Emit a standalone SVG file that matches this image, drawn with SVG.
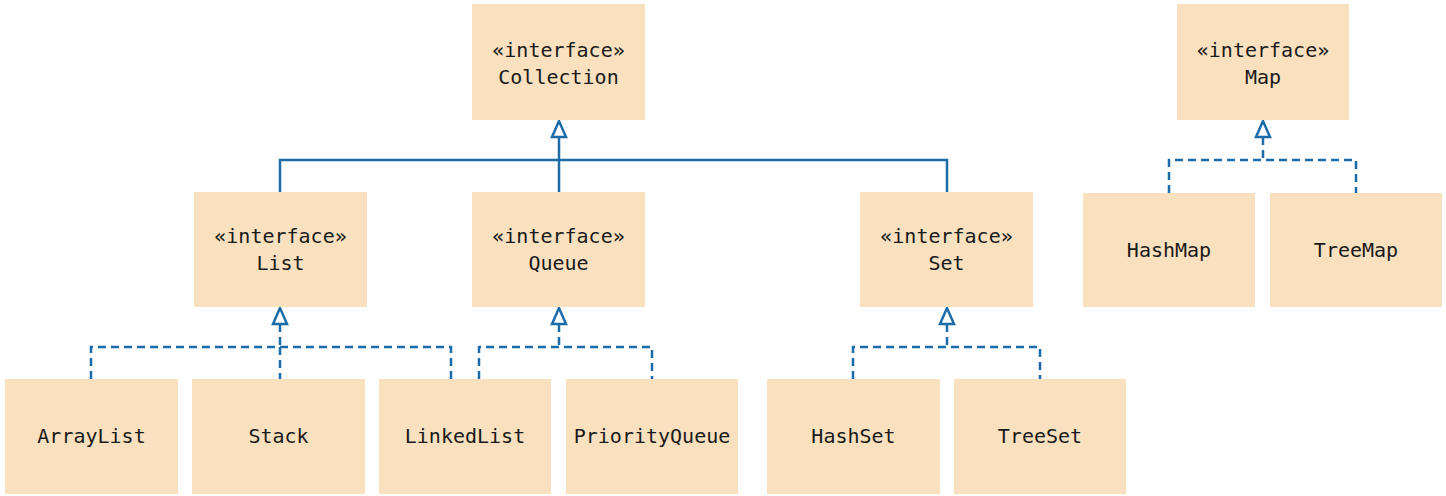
<svg xmlns="http://www.w3.org/2000/svg" width="1446" height="496" viewBox="0 0 1446 496">
<style>
.box{fill:#F9E1C0;}
.t{font-family:"DejaVu Sans Mono","Liberation Mono",monospace;font-size:20px;fill:#1a1a1a;text-anchor:middle;}
.c{fill:none;stroke:#1B6CA8;stroke-width:2.5;}
.d{stroke-dasharray:8 5;}
.ah{fill:#ffffff;stroke:#1B6CA8;stroke-width:2.5;stroke-linejoin:miter;}
</style>
<rect width="1446" height="496" fill="#ffffff"/>
<g id="connectors">
<path class="c" d="M559,137 V160 M280,193 V160 H947 V193 M559,160 V193"/>
<path class="c d" d="M280,324 V347 M91,379 V347 H451 V379 M280,347 V379"/>
<path class="c d" d="M559,324 V347 M479,379 V347 H652 V379"/>
<path class="c d" d="M947,324 V347 M853,379 V347 H1040 V379"/>
<path class="c d" d="M1263,137 V160 M1169,193 V160 H1356 V193"/>
<polygon class="ah" points="559,121 552,137 566,137"/>
<polygon class="ah" points="280,308 273,324 287,324"/>
<polygon class="ah" points="559,308 552,324 566,324"/>
<polygon class="ah" points="947,308 940,324 954,324"/>
<polygon class="ah" points="1263,121 1256,137 1270,137"/>
</g>
<g id="Collection"><rect class="box" x="472" y="4" width="173" height="116"/><text class="t" x="558.5" y="57">«interface»</text><text class="t" x="558.5" y="84">Collection</text></g>
<g id="Map"><rect class="box" x="1177" y="4" width="172" height="116"/><text class="t" x="1263" y="57">«interface»</text><text class="t" x="1263" y="84">Map</text></g>
<g id="List"><rect class="box" x="194" y="192" width="173" height="115"/><text class="t" x="280.5" y="243">«interface»</text><text class="t" x="280.5" y="270">List</text></g>
<g id="Queue"><rect class="box" x="472" y="192" width="173" height="115"/><text class="t" x="558.5" y="243">«interface»</text><text class="t" x="558.5" y="270">Queue</text></g>
<g id="Set"><rect class="box" x="860" y="192" width="173" height="115"/><text class="t" x="946.5" y="243">«interface»</text><text class="t" x="946.5" y="270">Set</text></g>
<g id="HashMap"><rect class="box" x="1083" y="193" width="172" height="114"/><text class="t" x="1169" y="257">HashMap</text></g>
<g id="TreeMap"><rect class="box" x="1270" y="193" width="172" height="114"/><text class="t" x="1356" y="257">TreeMap</text></g>
<g id="ArrayList"><rect class="box" x="5" y="379" width="173" height="115"/><text class="t" x="91.5" y="443">ArrayList</text></g>
<g id="Stack"><rect class="box" x="192" y="379" width="173" height="115"/><text class="t" x="278.5" y="443">Stack</text></g>
<g id="LinkedList"><rect class="box" x="379" y="379" width="172" height="115"/><text class="t" x="465" y="443">LinkedList</text></g>
<g id="PriorityQueue"><rect class="box" x="566" y="379" width="172" height="115"/><text class="t" x="652" y="443">PriorityQueue</text></g>
<g id="HashSet"><rect class="box" x="767" y="379" width="173" height="115"/><text class="t" x="853.5" y="443">HashSet</text></g>
<g id="TreeSet"><rect class="box" x="954" y="379" width="172" height="115"/><text class="t" x="1040" y="443">TreeSet</text></g>
</svg>
